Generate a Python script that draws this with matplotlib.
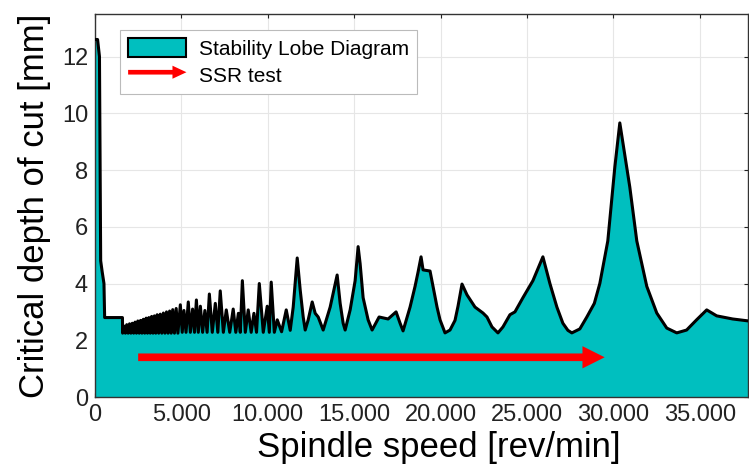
import matplotlib
matplotlib.use('Agg')
import matplotlib.pyplot as plt
import matplotlib.patches as mpatches
from matplotlib.legend_handler import HandlerPatch

# stability lobe boundary (rev/min, mm)
speed = [0, 150, 260, 330, 420, 520, 560, 1590,
         # dense low-speed lobes
         1600, 1680, 1760, 1840, 1920, 2000, 2080, 2160, 2240, 2320, 2400,
         2480, 2560, 2640, 2720, 2800, 2880, 2960, 3040, 3120, 3200, 3280,
         3360, 3440, 3520, 3600, 3690, 3780, 3870, 3960, 4050, 4140, 4230,
         4320, 4410, 4500, 4600, 4700, 4800,
         4940, 5050, 5150, 5270, 5400, 5520, 5650, 5760, 5870, 5980, 6100,
         6230, 6360, 6490, 6620, 6790, 6965, 7110, 7250, 7430, 7600, 7800,
         8000, 8150, 8300, 8410, 8530, 8700, 8870, 9040, 9200, 9350, 9510,
         9740, 9970, 10090, 10200, 10380, 10550, 10800, 11070, 11300,
         # larger lobes
         11473, 11705, 11878, 12051, 12167,
         12341, 12572, 12745, 12919, 13092, 13208,
         13612, 14016, 14190, 14363, 14479,
         14768, 15057, 15230, 15346, 15519, 15808, 16039,
         16444, 16964, 17427, 17658, 17831,
         18236, 18525, 18698, 18872, 18988, 19392, 19566, 19797, 19970, 20259,
         20548, 20837, 21011, 21242, 21531, 21993, 22456, 22687, 22976, 23323,
         23612, 24017, 24306, 24768, 25346, 25924, 26329, 26733, 27080, 27369,
         27600,
         28062, 28467, 28900, 29218, 29680, 30086, 30375, 30953, 31358, 31936,
         32514, 33092, 33670,
         34241, 34819, 35404, 35982, 36907, 37832, 38000]
depth = [12.6, 12.6, 12.0, 4.8, 4.4, 4.0, 2.8, 2.8,
         2.25, 2.50, 2.25, 2.55, 2.25, 2.58, 2.25, 2.60, 2.25, 2.64, 2.25,
         2.68, 2.25, 2.70, 2.25, 2.74, 2.25, 2.78, 2.25, 2.80, 2.25, 2.84,
         2.25, 2.86, 2.25, 2.90, 2.25, 2.92, 2.25, 2.96, 2.25, 3.00, 2.25,
         3.03, 2.25, 3.08, 2.25, 3.12, 2.25,
         3.25, 2.28, 3.05, 2.28, 3.35, 2.28, 3.10, 2.28, 3.42, 2.28, 3.20,
         2.28, 3.05, 2.28, 3.63, 2.28, 3.30, 2.28, 3.74, 2.28, 3.07, 2.28,
         3.10, 2.28, 2.95, 2.28, 4.10, 2.28, 3.07, 2.28, 2.95, 2.28, 4.00,
         2.28, 3.20, 2.28, 4.05, 2.28, 2.72, 2.30, 3.07, 2.35,
         3.17, 4.9, 3.77, 2.82, 2.36,
         2.72, 3.35, 2.95, 2.82, 2.54, 2.36,
         3.17, 4.3, 3.3, 2.6, 2.36,
         3.07, 4.1, 5.3, 4.7, 3.5, 2.72, 2.36,
         2.82, 2.75, 3.0, 2.6, 2.33,
         3.17, 3.9, 4.4, 4.94, 4.48, 4.44, 3.9, 3.17, 2.72, 2.26,
         2.36, 2.7, 3.2, 3.98, 3.6, 3.17, 2.96, 2.82, 2.47, 2.26,
         2.47, 2.9, 3.0, 3.5, 4.1, 4.94, 4.0, 3.17, 2.6, 2.35,
         2.26,
         2.4, 2.82, 3.3, 4.0, 5.5, 8.1, 9.66, 7.4, 5.5, 3.9,
         2.96, 2.43, 2.26,
         2.36, 2.72, 3.07, 2.86, 2.75, 2.68, 2.68]

# SSR test sweep
ssr_start = 2500
ssr_end = 29500
ssr_depth = 1.4

x_ticks = [0, 5000, 10000, 15000, 20000, 25000, 30000, 35000]
x_tick_labels = ['0', '5.000', '10.000', '15.000', '20.000', '25.000', '30.000', '35.000']
y_ticks = [0, 2, 4, 6, 8, 10, 12]

teal = '#00bfbf'

plt.rcParams['font.family'] = ['Liberation Sans', 'DejaVu Sans']

fig = plt.figure(figsize=(7.49, 4.70), dpi=100)
ax = fig.add_axes([0.1268, 0.1553, 0.872, 0.815])

ax.fill_between(speed, depth, 0, facecolor=teal, edgecolor='none', zorder=2)
ax.plot(speed, depth, color='black', lw=2.2, zorder=3)

arrow = mpatches.FancyArrowPatch((ssr_start, ssr_depth), (ssr_end, ssr_depth),
                                 arrowstyle='simple,head_width=16,head_length=16,tail_width=5.5',
                                 mutation_scale=1, color='red', lw=0,
                                 shrinkA=0, shrinkB=0, zorder=4)
ax.add_patch(arrow)

ax.set_xlim(0, 37800)
ax.set_ylim(0, 13.5)
ax.set_xticks(x_ticks)
ax.set_xticklabels(x_tick_labels)
ax.set_yticks(y_ticks)
ax.tick_params(direction='in', length=3, width=0.8, top=True, right=True,
               labelsize=17, pad=5, colors='#222222')
ax.grid(True, color='#e6e6e6', lw=0.8)
ax.set_axisbelow(True)
for s in ax.spines.values():
    s.set_color('#333333')
    s.set_linewidth(1.0)

ax.set_xlabel('Spindle speed [rev/min]', fontsize=25)
ax.set_ylabel('Critical depth of cut [mm]', fontsize=25, labelpad=8)
ax.xaxis.set_label_coords(0.527, -0.09)


def arrow_handle(legend, orig_handle, xdescent, ydescent, width, height, fontsize):
    return mpatches.FancyArrow(0, height / 2, width, 0, width=height * 0.25,
                               head_width=height * 0.7, head_length=height * 0.75,
                               length_includes_head=True)


lobe_handle = mpatches.Rectangle((0, 0), 1, 1, facecolor=teal, edgecolor='black', lw=1.5)
arrow_legend = mpatches.FancyArrow(0, 0, 1, 0, color='red', lw=0)
leg = ax.legend([lobe_handle, arrow_legend], ['Stability Lobe Diagram', 'SSR test'],
                handler_map={mpatches.FancyArrow: HandlerPatch(patch_func=arrow_handle)},
                loc='upper left', bbox_to_anchor=(0.038, 0.958), borderaxespad=0,
                fontsize=15, handlelength=2.8, handleheight=1.0, handletextpad=0.6,
                fancybox=False, framealpha=1, edgecolor='#bbbbbb', borderpad=0.4,
                labelspacing=0.3)
leg.get_frame().set_linewidth(0.8)

fig.savefig('out.png', dpi=100)
